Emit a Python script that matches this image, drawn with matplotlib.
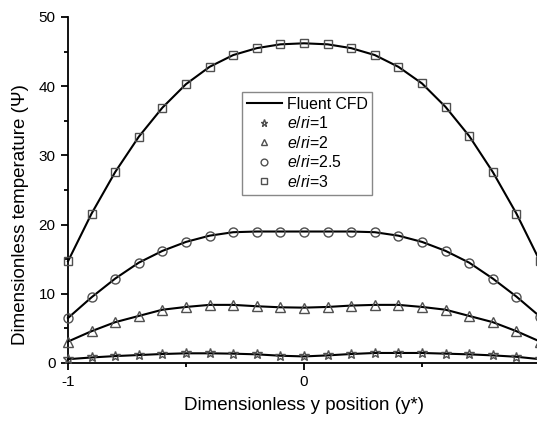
import numpy as np
import matplotlib as mpl
mpl.use('Agg')
import matplotlib.pyplot as plt
from matplotlib.ticker import MultipleLocator, FixedLocator, FixedFormatter

plt.rcParams['font.family'] = ['Liberation Sans', 'DejaVu Sans']
plt.rcParams['mathtext.fontset'] = 'custom'
plt.rcParams['mathtext.rm'] = 'Liberation Sans'
plt.rcParams['mathtext.it'] = 'Liberation Sans:italic'

# dimensionless position across the channel
ystar = [-1.0, -0.9, -0.8, -0.7, -0.6, -0.5, -0.4, -0.3, -0.2, -0.1, 0.0,
         0.1, 0.2, 0.3, 0.4, 0.5, 0.6, 0.7, 0.8, 0.9, 1.0]

# dimensionless temperature for each eccentricity ratio
psi_e1 = [0.55, 0.8, 1.0, 1.15, 1.3, 1.4, 1.4, 1.35, 1.25, 1.05, 0.95,
          1.1, 1.3, 1.45, 1.45, 1.45, 1.35, 1.25, 1.1, 0.9, 0.55]
psi_e2 = [3.1, 4.6, 5.9, 6.8, 7.7, 8.1, 8.4, 8.4, 8.2, 8.05, 8.0,
          8.1, 8.3, 8.4, 8.4, 8.1, 7.7, 6.8, 5.9, 4.6, 3.1]
psi_e25 = [6.5, 9.5, 12.2, 14.5, 16.2, 17.5, 18.4, 18.9, 19.0, 19.0, 19.0,
           19.0, 19.0, 18.9, 18.4, 17.5, 16.2, 14.5, 12.2, 9.6, 6.7]
psi_e3 = [14.7, 21.6, 27.6, 32.7, 36.9, 40.3, 42.8, 44.5, 45.5, 46.05, 46.2,
          46.05, 45.5, 44.5, 42.8, 40.4, 37.0, 32.8, 27.6, 21.6, 14.7]

series = [(psi_e1, '*', 7, r'$e/ri$=1'),
          (psi_e2, '^', 6.5, r'$e/ri$=2'),
          (psi_e25, 'o', 6.5, r'$e/ri$=2.5'),
          (psi_e3, 's', 5.5, r'$e/ri$=3')]

fig = plt.figure(figsize=(5.37, 4.24), dpi=100)
ax = fig.add_axes([68/537, 61/424, 472/537, 346/424])

mcol = '#505050'
handles = []
for i, (vals, mk, ms, lab) in enumerate(series):
    ln, = ax.plot(ystar, vals, '-', color='black', lw=1.5, zorder=2,
                  label='Fluent CFD', clip_on=False)
    if i == 0:
        handles.append(ln)
    pts, = ax.plot(ystar, vals, linestyle='none', marker=mk, ms=ms,
                   mfc='none', mec=mcol, mew=1.0, zorder=3, label=lab,
                   clip_on=False)
    handles.append(pts)

ax.set_xlim(-1, 1)
ax.set_ylim(0, 50)

ax.spines['top'].set_visible(False)
ax.spines['right'].set_visible(False)
for s in ['left', 'bottom']:
    ax.spines[s].set_linewidth(1.3)

# the x=1 tick sits on the figure edge, so it carries no label
ax.xaxis.set_major_locator(FixedLocator([-1, 0, 1]))
ax.xaxis.set_major_formatter(FixedFormatter(['-1', '0', '']))
ax.xaxis.set_minor_locator(FixedLocator([-0.5, 0.5]))
ax.yaxis.set_major_locator(MultipleLocator(10))
ax.yaxis.set_minor_locator(MultipleLocator(5))
ax.tick_params(which='major', direction='out', length=5, width=1.3,
               labelsize=11, pad=4)
ax.tick_params(which='minor', direction='out', length=3, width=1.3)

ax.set_xlabel('Dimensionless y position (y*)', fontsize=13.5)
ax.set_ylabel('Dimensionless temperature (Ψ)', fontsize=13.5)
ax.xaxis.set_label_coords(0.5, -0.098)
ax.yaxis.set_label_coords(-0.082, 0.43)

leg = ax.legend(handles=handles, loc='upper left',
                bbox_to_anchor=(0.369, 0.783), borderaxespad=0,
                fontsize=11.4, fancybox=False, framealpha=1,
                edgecolor='#888888', handlelength=2.2, handletextpad=0.3,
                labelspacing=0.22, borderpad=0.3, markerscale=0.75)
leg.get_frame().set_linewidth(1.0)

fig.savefig('out.png', dpi=100)
